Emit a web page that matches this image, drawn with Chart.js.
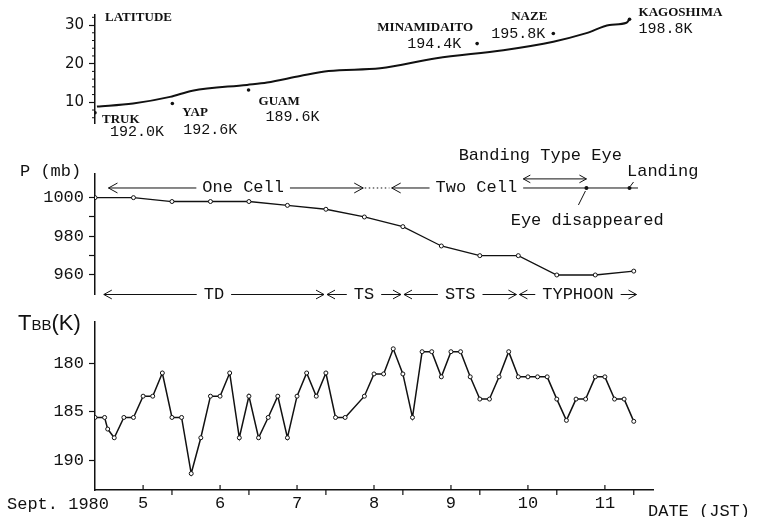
<!DOCTYPE html>
<html><head><meta charset="utf-8">
<script src="https://cdn.jsdelivr.net/npm/chart.js@4/dist/chart.umd.min.js"></script>
<style>
html,body{margin:0;padding:0;background:#fff;}
#wrap{position:relative;width:757px;height:517px;overflow:hidden;}
canvas{position:absolute;left:0;top:0;}
</style></head><body>
<div id="wrap">
<canvas id="c1" width="757" height="517"></canvas>
<canvas id="c2" width="757" height="517"></canvas>
<canvas id="c3" width="757" height="517"></canvas>
</div>
<script>
// ---------------- DATA ----------------
// time axis in days of September 1980 (JST)
const latDays   = [4.40, 4.87, 5.35, 5.64, 6.35, 6.61, 7.04, 7.41, 8.08, 8.81, 9.68, 10.33, 10.76, 11.06, 11.28, 11.32];
const latValues = [8.9, 9.7, 11.4, 13.0, 14.5, 15.1, 16.8, 18.1, 18.8, 21.4, 23.5, 25.7, 27.9, 30.0, 30.6, 31.5];

const stationNames = ['TRUK', 'YAP', 'GUAM', 'MINAMIDAITO', 'NAZE', 'KAGOSHIMA'];
const stationDays  = [4.375, 5.38, 6.37, 9.34, 10.33, 11.32];
const stationLat   = [7.3, 9.7, 13.2, 25.2, 27.8, 31.5];
const stationTbb   = ['192.0K', '192.6K', '189.6K', '194.4K', '195.8K', '198.8K'];

const presDays   = [4.375, 4.875, 5.375, 5.875, 6.375, 6.875, 7.375, 7.875, 8.375, 8.875, 9.375, 9.875, 10.375, 10.875, 11.375];
const presValues = [1000, 1000, 998, 998, 998, 996, 994, 990, 985, 975, 970, 970, 960, 960, 962];

const tbbDays = [4.375, 4.5, 4.54, 4.625, 4.75, 4.875, 5.0, 5.125, 5.25, 5.375, 5.5, 5.625, 5.75, 5.875,
  6.0, 6.125, 6.25, 6.375, 6.5, 6.625, 6.75, 6.875, 7.0, 7.125, 7.25, 7.375, 7.5, 7.625, 7.875,
  8.0, 8.125, 8.25, 8.375, 8.5, 8.625, 8.75, 8.875, 9.0, 9.125, 9.25, 9.375, 9.5, 9.625, 9.75, 9.875,
  10.0, 10.125, 10.25, 10.375, 10.5, 10.625, 10.75, 10.875, 11.0, 11.125, 11.25, 11.375];
const tbbValues = [185.6, 185.6, 186.8, 187.7, 185.6, 185.6, 183.4, 183.4, 181.0, 185.6, 185.6, 191.4, 187.7, 183.4,
  183.4, 181.0, 187.7, 183.4, 187.7, 185.6, 183.4, 187.7, 183.4, 181.0, 183.4, 181.0, 185.6, 185.6, 183.4,
  181.1, 181.1, 178.5, 181.1, 185.6, 178.8, 178.8, 181.4, 178.8, 178.8, 181.4, 183.7, 183.7, 181.4, 178.8, 181.4,
  181.4, 181.4, 181.4, 183.7, 185.9, 183.7, 183.7, 181.4, 181.4, 183.7, 183.7, 186.0];

const latTicks = [10, 20, 30];
const latMinorTicks = [6, 8, 12, 14, 16, 18, 22, 24, 26, 28, 32];
const presTicks = [960, 970, 980, 990, 1000];
const presLabels = [960, 980, 1000];
const tbbTicks = [180, 185, 190];
const dayTicks = [5, 6, 7, 8, 9, 10, 11];
const halfTicks = [5.375, 6.375, 7.375, 8.375, 9.375, 10.375, 11.375];

// annotations (in data units: day, hPa)
const cellRow = 1005;
const cellSpans = [
  {from: 4.55, to: 7.86, label: 'One Cell', at: 6.30, headStart: true, headEnd: true},
  {from: 8.23, to: 11.43, label: 'Two Cell', at: 9.33, headStart: true, headEnd: false}
];
const cellDotted = [7.88, 8.20];
const eyeBandFrom = 9.94, eyeBandTo = 10.76, eyeBandRow = 1009.7;
const eyeGoneDay = 10.76, landingDay = 11.32;
const stageRow = 949.9;
const stageBounds = [4.47, 7.37, 8.37, 9.87, 11.43];
const stageNames = ['TD', 'TS', 'STS', 'TYPHOON'];

// ---------------- STYLE ----------------
const MONO = '"Liberation Mono", "DejaVu Sans Mono", monospace';
const SERIF = '"Liberation Serif", serif';
const SANS = '"DejaVu Sans", sans-serif';
const SANS2 = '"Liberation Sans", sans-serif';
const X_MIN = 4.375, X_MAX = 11.625;
const AXIS_W = 95;
const INK = '#111';

function baseOptions(padding) {
  return {
    responsive: false, animation: false, events: [],
    layout: {padding: padding},
    plugins: {legend: {display: false}, tooltip: {enabled: false}, title: {display: false}},
  };
}
function yAxis(min, max, ticks, labels, font, reverse) {
  return {
    type: 'linear', min: min, max: max, reverse: !!reverse,
    afterFit: s => { s.width = AXIS_W; },
    afterBuildTicks: s => { s.ticks = ticks.map(v => ({value: v})); },
    ticks: {callback: v => (labels.includes(v) ? String(v) : ''), font: font, color: INK, padding: 5, autoSkip: false},
    grid: {drawOnChartArea: false, tickLength: 6, color: INK, tickWidth: 1.2},
    border: {color: INK, width: 1.5}
  };
}
function arrowHead(ctx, x, y, dir, size) {
  ctx.beginPath();
  ctx.moveTo(x - dir * size, y - size * 0.55);
  ctx.lineTo(x, y);
  ctx.lineTo(x - dir * size, y + size * 0.55);
  ctx.stroke();
}

// ---------------- CHART 1 : latitude ----------------
const stationLayout = [
  {nx: 7, ny: 7, na: 'left', vx: 15, vy: 19, va: 'left'},
  {nx: 10, ny: 9, na: 'left', vx: 11, vy: 27, va: 'left'},
  {nx: 10, ny: 12, na: 'left', vx: 17, vy: 27, va: 'left'},
  {nx: -4, ny: -16, na: 'right', vx: -16, vy: 0, va: 'right'},
  {nx: -6, ny: -17, na: 'right', vx: -8, vy: 0, va: 'right'},
  {nx: 9, ny: -7, na: 'left', vx: 9, vy: 10, va: 'left'}
];
new Chart(document.getElementById('c1'), {
  type: 'line',
  data: {datasets: [
    {data: latDays.map((d, i) => ({x: d, y: latValues[i]})), borderColor: INK, borderWidth: 2,
     pointRadius: 0, cubicInterpolationMode: 'monotone', fill: false},
    {data: stationDays.map((d, i) => ({x: d, y: stationLat[i]})), showLine: false,
     pointRadius: 1.8, pointBackgroundColor: INK, pointBorderWidth: 0}
  ]},
  options: Object.assign(baseOptions({left: 0, top: 15, right: 104, bottom: 394}), {
    scales: {
      x: {type: 'linear', min: X_MIN, max: X_MAX, display: false},
      y: yAxis(4.64, 32.6, latTicks, latTicks, {family: SANS, size: 15})
    }
  }),
  plugins: [{id: 'stations', afterDraw(chart) {
    const ctx = chart.ctx, xs = chart.scales.x, ys = chart.scales.y;
    const left = chart.chartArea.left;
    ctx.save();
    ctx.strokeStyle = INK; ctx.lineWidth = 1;
    latMinorTicks.forEach(v => { const y = ys.getPixelForValue(v); ctx.beginPath(); ctx.moveTo(left, y); ctx.lineTo(left - 3, y); ctx.stroke(); });
    ctx.fillStyle = INK;
    ctx.textBaseline = 'middle';
    ctx.font = 'bold 13px ' + SERIF;
    ctx.textAlign = 'left';
    ctx.fillText('LATITUDE', 105, 18);
    stationNames.forEach((n, i) => {
      const px = xs.getPixelForValue(stationDays[i]), py = ys.getPixelForValue(stationLat[i]);
      const L = stationLayout[i];
      ctx.font = 'bold 13px ' + SERIF;
      ctx.textAlign = L.na;
      ctx.fillText(n, px + L.nx, py + L.ny);
      ctx.font = '15px ' + MONO;
      ctx.textAlign = L.va;
      ctx.fillText(stationTbb[i], px + L.vx, py + L.vy);
    });
    ctx.restore();
  }}]
});

// ---------------- CHART 2 : central pressure ----------------
new Chart(document.getElementById('c2'), {
  type: 'line',
  data: {datasets: [
    {data: presDays.map((d, i) => ({x: d, y: presValues[i]})), borderColor: INK, borderWidth: 1.3,
     pointRadius: 2, pointBackgroundColor: '#fff', pointBorderColor: INK, pointBorderWidth: 1, tension: 0}
  ]},
  options: Object.assign(baseOptions({left: 0, top: 173.3, right: 104, bottom: 222.5}), {
    scales: {
      x: {type: 'linear', min: X_MIN, max: X_MAX, display: false},
      y: yAxis(949.9, 1012.6, presTicks, presLabels, {family: MONO, size: 17})
    }
  }),
  plugins: [{id: 'pressAnno', afterDraw(chart) {
    const ctx = chart.ctx, xs = chart.scales.x, ys = chart.scales.y;
    const X = d => xs.getPixelForValue(d), Y = v => ys.getPixelForValue(v);
    ctx.save();
    ctx.fillStyle = INK; ctx.strokeStyle = INK; ctx.lineWidth = 1;
    ctx.textBaseline = 'middle'; ctx.textAlign = 'left';
    ctx.font = '17px ' + MONO;
    ctx.fillText('P (mb)', 20, 171);
    // cell rows
    const yc = Y(cellRow);
    cellSpans.forEach(s => {
      const x1 = X(s.from), x2 = X(s.to), cx = X(s.at);
      const w = ctx.measureText(s.label).width;
      ctx.beginPath();
      ctx.moveTo(x1, yc); ctx.lineTo(cx - w / 2 - 6, yc);
      ctx.moveTo(cx + w / 2 + 6, yc); ctx.lineTo(x2, yc);
      ctx.stroke();
      if (s.headStart) arrowHead(ctx, x1, yc, -1, 9);
      if (s.headEnd) arrowHead(ctx, x2, yc, 1, 9);
      ctx.textAlign = 'center';
      ctx.fillText(s.label, cx, yc);
    });
    ctx.save();
    ctx.setLineDash([1.5, 2.5]);
    ctx.beginPath(); ctx.moveTo(X(cellDotted[0]), yc); ctx.lineTo(X(cellDotted[1]), yc); ctx.stroke();
    ctx.restore();
    // banding type eye
    const yb = Y(eyeBandRow);
    ctx.beginPath(); ctx.moveTo(X(eyeBandFrom), yb); ctx.lineTo(X(eyeBandTo), yb); ctx.stroke();
    arrowHead(ctx, X(eyeBandFrom), yb, -1, 7);
    arrowHead(ctx, X(eyeBandTo), yb, 1, 7);
    ctx.textAlign = 'center';
    ctx.fillText('Banding Type Eye', X(10.16), 155);
    // eye disappeared / landing dots
    [eyeGoneDay, landingDay].forEach(d => { ctx.beginPath(); ctx.arc(X(d), yc, 2, 0, Math.PI * 2); ctx.fill(); });
    ctx.beginPath(); ctx.moveTo(X(eyeGoneDay) - 1, yc + 3); ctx.lineTo(X(eyeGoneDay) - 8, yc + 17); ctx.stroke();
    ctx.fillText('Eye disappeared', X(10.77), 220);
    ctx.beginPath(); ctx.moveTo(X(landingDay) + 4, yc - 6); ctx.lineTo(X(landingDay) + 1, yc - 2); ctx.stroke();
    ctx.textAlign = 'left';
    ctx.fillText('Landing', 627, 171);
    // stages
    const ys2 = Y(stageRow);
    ctx.textAlign = 'center';
    for (let i = 0; i < stageNames.length; i++) {
      const x1 = X(stageBounds[i]) + 1.5, x2 = X(stageBounds[i + 1]) - 1.5;
      const cx = (x1 + x2) / 2, w = ctx.measureText(stageNames[i]).width;
      ctx.beginPath();
      ctx.moveTo(x1, ys2); ctx.lineTo(cx - w / 2 - 7, ys2);
      ctx.moveTo(cx + w / 2 + 7, ys2); ctx.lineTo(x2, ys2);
      ctx.stroke();
      arrowHead(ctx, x1, ys2, -1, 8);
      arrowHead(ctx, x2, ys2, 1, 8);
      ctx.fillText(stageNames[i], cx, ys2);
    }
    ctx.restore();
  }}]
});

// ---------------- CHART 3 : TBB ----------------
new Chart(document.getElementById('c3'), {
  type: 'line',
  data: {datasets: [
    {data: tbbDays.map((d, i) => ({x: d, y: tbbValues[i]})), borderColor: INK, borderWidth: 1.5,
     pointRadius: 2, pointBackgroundColor: '#fff', pointBorderColor: INK, pointBorderWidth: 1, tension: 0}
  ]},
  options: Object.assign(baseOptions({left: 0, top: 322, right: 104, bottom: 0}), {
    scales: {
      x: {type: 'linear', min: X_MIN, max: X_MAX, position: 'bottom',
          afterFit: s => { s.height = 27; },
          afterBuildTicks: s => { s.ticks = dayTicks.map(v => ({value: v})); },
          ticks: {callback: v => String(v), font: {family: MONO, size: 17}, color: INK, padding: 3, autoSkip: false, maxRotation: 0},
          grid: {drawOnChartArea: false, drawTicks: false},
          border: {color: INK, width: 1.5}},
      y: yAxis(175.73, 193.1, tbbTicks, tbbTicks, {family: MONO, size: 17}, true)
    }
  }),
  plugins: [{id: 'tbbAnno', afterDraw(chart) {
    const ctx = chart.ctx, xs = chart.scales.x;
    const yb = chart.chartArea.bottom;
    ctx.save();
    ctx.strokeStyle = INK; ctx.fillStyle = INK; ctx.lineWidth = 1.2;
    dayTicks.forEach(d => { const x = xs.getPixelForValue(d); ctx.beginPath(); ctx.moveTo(x, yb); ctx.lineTo(x, yb - 5); ctx.stroke(); });
    halfTicks.forEach(d => { const x = xs.getPixelForValue(d); ctx.beginPath(); ctx.moveTo(x, yb); ctx.lineTo(x, yb + 5); ctx.stroke(); });
    ctx.textBaseline = 'middle';
    ctx.textAlign = 'left';
    ctx.font = '17px ' + MONO;
    ctx.fillText('Sept. 1980', 7, 504);
    ctx.fillText('DATE (JST)', 648, 511);
    // TBB(K) axis title
    let x = 18;
    ctx.textBaseline = 'alphabetic';
    ctx.font = '22px ' + SANS2; ctx.fillText('T', x, 330); x += ctx.measureText('T').width;
    ctx.font = '15px ' + SANS2; ctx.fillText('BB', x, 330); x += ctx.measureText('BB').width;
    ctx.font = '22px ' + SANS2; ctx.fillText('(K)', x, 330);
    ctx.restore();
  }}]
});
</script>
</body></html>
